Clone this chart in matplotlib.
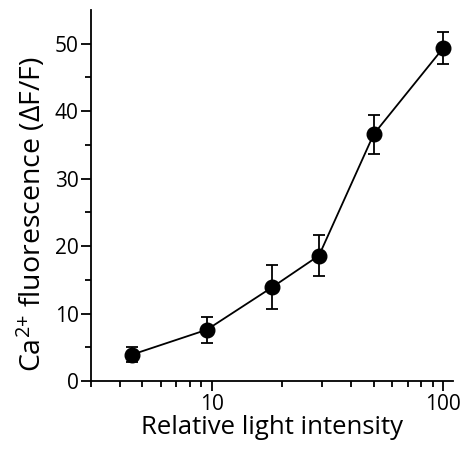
import numpy as np
import matplotlib.pyplot as plt
from matplotlib.ticker import FixedLocator, NullFormatter

plt.rcParams['font.family'] = ['Open Sans', 'DejaVu Sans']
plt.rcParams['mathtext.fontset'] = 'custom'
plt.rcParams['mathtext.rm'] = 'Open Sans'
plt.rcParams['mathtext.it'] = 'Open Sans'

# data
intensity = [4.5, 9.5, 18.2, 29, 50, 100]
fluor = [3.9, 7.6, 13.9, 18.6, 36.6, 49.4]
err = [1.1, 1.9, 3.3, 3.0, 2.9, 2.4]

fig = plt.figure(figsize=(4.61, 4.5), dpi=100)
ax = fig.add_axes([91 / 461, 69 / 450, 362 / 461, 371 / 450])

ax.errorbar(intensity, fluor, yerr=err, fmt='o-', color='black',
            markersize=10.5, linewidth=1.3, elinewidth=1.3, capsize=4, capthick=1.3)

ax.set_xscale('log')
ax.set_xlim(3, 110)
ax.set_ylim(0, 55)
ax.xaxis.set_major_locator(FixedLocator([10, 100]))
ax.xaxis.set_minor_locator(FixedLocator([3, 4, 5, 6, 7, 8, 9, 20, 30, 40, 50, 60, 70, 80, 90]))
ax.xaxis.set_minor_formatter(NullFormatter())
ax.set_xticklabels(['10', '100'])
ax.set_yticks([0, 10, 20, 30, 40, 50])
ax.set_yticks([5, 15, 25, 35, 45], minor=True)

for s in ['top', 'right']:
    ax.spines[s].set_visible(False)
for s in ['left', 'bottom']:
    ax.spines[s].set_linewidth(1.3)

ax.tick_params(which='major', length=7, width=1.3, labelsize=15, pad=2)
ax.tick_params(which='minor', length=4, width=1.3)

ax.set_xlabel('Relative light intensity', fontsize=18.5, labelpad=0)
ax.set_ylabel('Ca$\\mathregular{^{2{+}}}$ fluorescence (ΔF/F)', fontsize=20.5)
ax.yaxis.set_label_coords(-0.12, 0.45)

plt.savefig('out.png', dpi=100)
